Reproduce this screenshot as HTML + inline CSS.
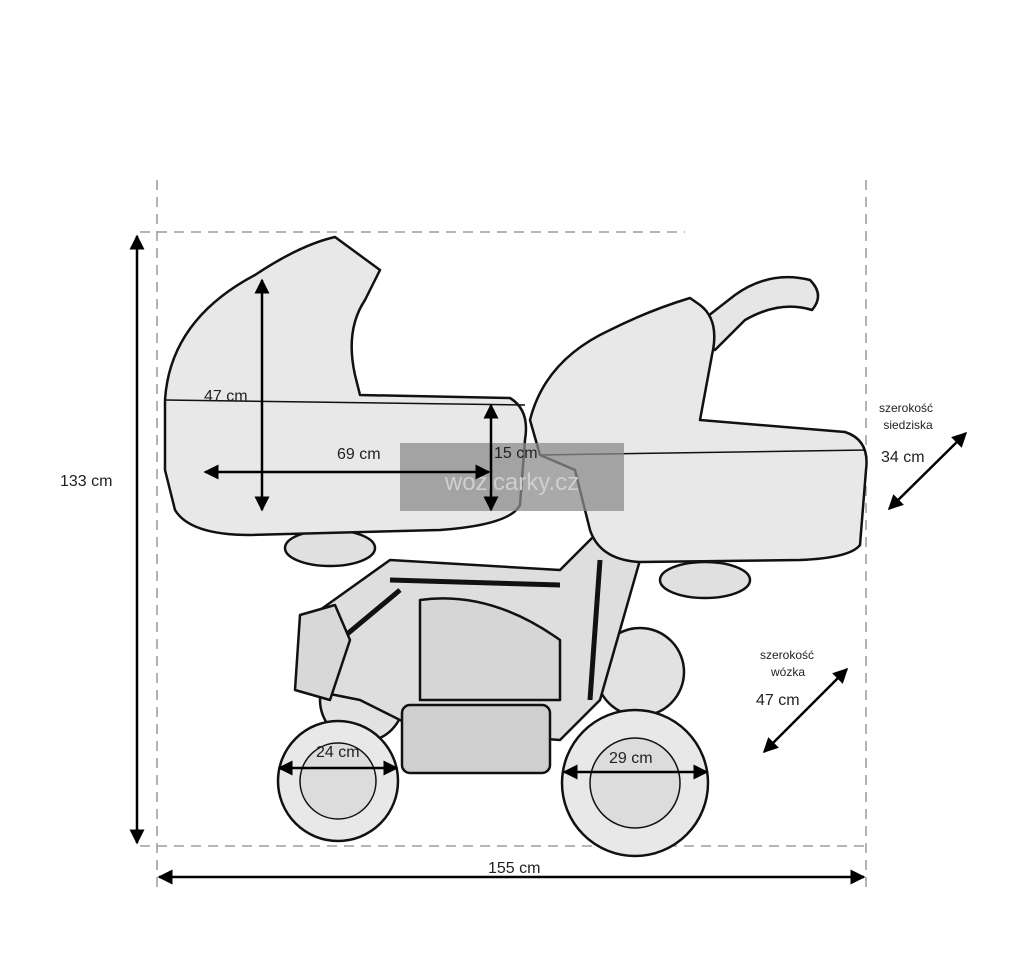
<!DOCTYPE html>
<html><head><meta charset="utf-8"><style>
html,body{margin:0;padding:0;background:#fff;}
svg{display:block;}
text{font-family:"Liberation Sans",sans-serif;fill:#222;}
</style></head><body>
<svg width="1024" height="954" viewBox="0 0 1024 954" xmlns="http://www.w3.org/2000/svg">
<defs>
<marker id="ah" viewBox="0 0 10 10" refX="9" refY="5" markerWidth="6" markerHeight="6" orient="auto-start-reverse">
<path d="M0,0 L10,5 L0,10 z" fill="#000"/></marker>
</defs>
<rect width="1024" height="954" fill="#fff"/>
<g stroke="#8a8a8a" stroke-width="1.3" stroke-dasharray="10 7" fill="none">
<line x1="157" y1="180" x2="157" y2="890"/>
<line x1="866" y1="180" x2="866" y2="890"/>
<line x1="140" y1="232" x2="685" y2="232"/>
<line x1="140" y1="846" x2="866" y2="846"/>
</g>

<g stroke="#111" stroke-width="2.5" stroke-linejoin="round">
<circle cx="640" cy="672" r="44" fill="#e2e2e2"/>
<circle cx="362" cy="700" r="42" fill="#e2e2e2"/>
<path d="M320,610 L390,560 L560,570 L610,520 L640,560 L600,700 L560,740 L420,730 L360,700 L310,690 Z" fill="#dedede"/>
<path d="M390,580 L560,585 M340,640 L400,590 M600,560 L590,700" fill="none" stroke-width="5"/>
<path d="M300,615 L335,605 L350,640 L330,700 L295,690 Z" fill="#d8d8d8"/>
<rect x="402" y="705" width="148" height="68" rx="8" fill="#cfcfcf"/>
<path d="M420,600 Q490,590 560,640 L560,700 L420,700 Z" fill="#d6d6d6"/>
<circle cx="338" cy="781" r="60" fill="#e8e8e8"/>
<circle cx="338" cy="781" r="38" fill="#dcdcdc" stroke-width="1.5"/>
<circle cx="635" cy="783" r="73" fill="#e8e8e8"/>
<circle cx="635" cy="783" r="45" fill="#dcdcdc" stroke-width="1.5"/>
<path d="M690,330 L735,295 Q770,270 810,280 Q825,295 812,310 Q780,300 745,320 L715,350 Z" fill="#e6e6e6"/>
<ellipse cx="330" cy="548" rx="45" ry="18" fill="#e0e0e0"/>
<ellipse cx="705" cy="580" rx="45" ry="18" fill="#e0e0e0"/>
<path d="M165,400 Q170,320 255,275 Q300,245 335,237 L380,270 L365,300 Q345,330 355,375 L360,395 L510,398 Q530,410 525,440 L520,505 Q510,525 440,530 L250,535 Q190,535 175,510 L165,470 Z" fill="#e8e8e8"/>
<path d="M165,400 L525,405" fill="none" stroke-width="1.5"/>
<path d="M530,420 Q545,360 610,330 Q650,310 690,298 L700,305 Q720,320 712,355 L700,420 L845,432 Q870,440 866,470 L860,545 Q850,558 800,560 L640,562 Q600,560 590,530 L575,470 L540,455 Z" fill="#e8e8e8"/>
<path d="M540,455 L866,450" fill="none" stroke-width="1.5"/>
</g>

<rect x="400" y="443" width="224" height="68" fill="#8c8c8c" opacity="0.75"/>
<text x="512" y="490" font-size="24" text-anchor="middle" style="fill:#cfcfcf">wozicarky.cz</text>

<g stroke="#000" stroke-width="2.5" fill="none" marker-start="url(#ah)" marker-end="url(#ah)">
<line x1="137" y1="236" x2="137" y2="843"/>
<line x1="159" y1="877" x2="864" y2="877"/>
<line x1="262" y1="280" x2="262" y2="510"/>
<line x1="205" y1="472" x2="489" y2="472"/>
<line x1="491" y1="405" x2="491" y2="510"/>
<line x1="279" y1="768" x2="397" y2="768"/>
<line x1="564" y1="772" x2="707" y2="772"/>
<line x1="889" y1="509" x2="966" y2="433"/>
<line x1="764" y1="752" x2="847" y2="669"/>
</g>

<g font-size="16">
<text x="60" y="486">133 cm</text>
<text x="488" y="873">155 cm</text>
<text x="204" y="401">47 cm</text>
<text x="337" y="459">69 cm</text>
<text x="494" y="458">15 cm</text>
<text x="316" y="757">24 cm</text>
<text x="609" y="763">29 cm</text>
<text x="881" y="462">34 cm</text>
<text x="756" y="705">47 cm</text>
</g>
<g font-size="12" text-anchor="middle">
<text x="906" y="412">szerokość</text>
<text x="908" y="429">siedziska</text>
<text x="787" y="659">szerokość</text>
<text x="788" y="676">wózka</text>
</g>
</svg>
</body></html>
